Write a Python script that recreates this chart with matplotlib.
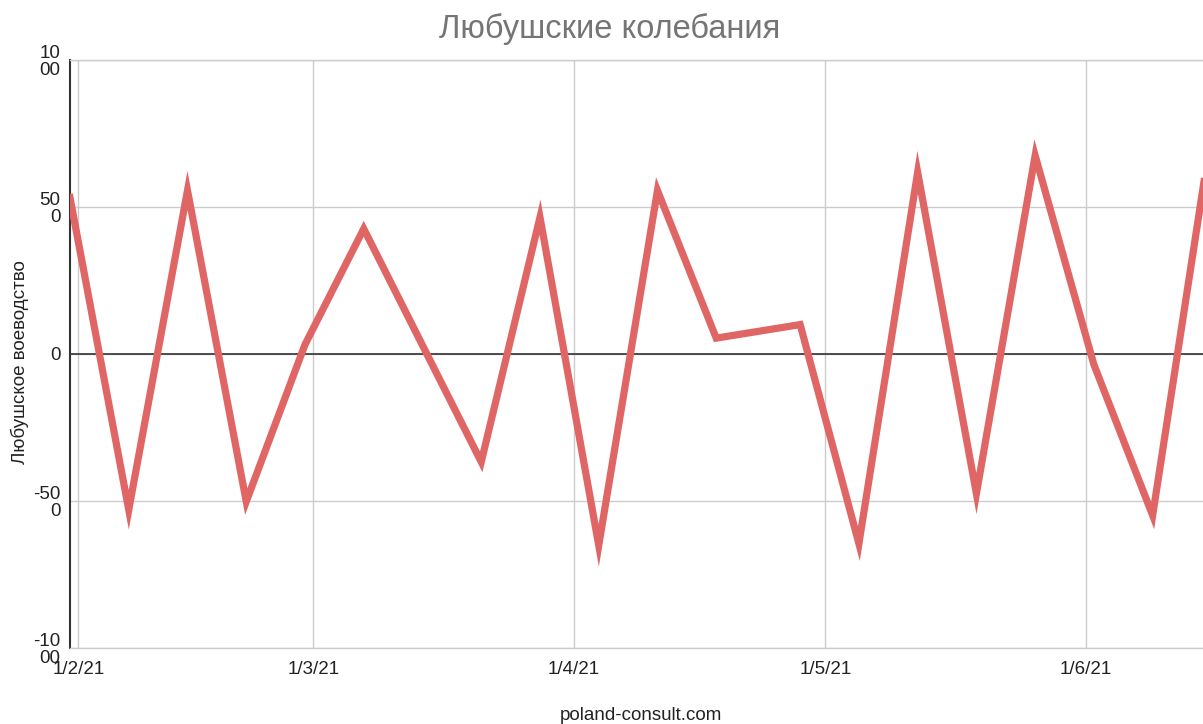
import matplotlib
matplotlib.use("Agg")
import matplotlib.pyplot as plt
import numpy as np

plt.rcParams['font.family'] = ['Liberation Sans', 'DejaVu Sans']

# --- data ---
dates = ["2021-01-31", "2021-02-07", "2021-02-14", "2021-02-21", "2021-02-28",
         "2021-03-07", "2021-03-21", "2021-03-28", "2021-04-04", "2021-04-11",
         "2021-04-18", "2021-04-28", "2021-05-05", "2021-05-12", "2021-05-19",
         "2021-05-26", "2021-06-02", "2021-06-09", "2021-06-16"]
values = [532, -530, 556, -502, 32,
          426, -367, 465, -651, 556,
          54, 100, -645, 618, -475,
          675, -36, -549, 750]

month_ticks = ["2021-02-01", "2021-03-01", "2021-04-01", "2021-05-01", "2021-06-01"]
month_labels = ["1/2/21", "1/3/21", "1/4/21", "1/5/21", "1/6/21"]
y_ticks = [-1000, -500, 0, 500, 1000]
y_labels = ["-10\n00", "-50\n0", "0", "50\n0", "10\n00"]

title = "Любушские колебания"
y_title = "Любушское воеводство"
x_title = "poland-consult.com"

x = np.array(dates, dtype="datetime64[D]")
xt = np.array(month_ticks, dtype="datetime64[D]")

W, H = 1203, 724
fig = plt.figure(figsize=(W / 100, H / 100), dpi=100)
ax = fig.add_axes([70 / W, 76 / H, 1133 / W, 588 / H])

ax.plot(x, values, color="#e06666", lw=5.2, solid_joinstyle="miter", zorder=3)
ax.axhline(0, color="#333333", lw=1.2, zorder=2)

ax.set_xlim(np.datetime64("2021-01-31"), np.datetime64("2021-06-15"))
ax.set_ylim(-1000, 1000)

ax.set_xticks(xt, month_labels)
ax.set_yticks(y_ticks, y_labels)
for t in ax.get_yticklabels():
    t.set_linespacing(1.0)

ax.grid(True, color="#cccccc", lw=1.0, zorder=0)
ax.tick_params(length=0, labelsize=13.5, labelcolor="#222222")
ax.tick_params(axis="y", pad=7)
ax.tick_params(axis="x", pad=9)

for side in ("top", "bottom"):
    ax.spines[side].set_color("#cccccc")
    ax.spines[side].set_linewidth(1.0)
ax.spines["right"].set_visible(False)
ax.spines["left"].set_color("#333333")
ax.spines["left"].set_linewidth(1.5)

fig.text(610 / W, 1 - 38 / H, title, ha="center", va="baseline",
         fontsize=23.5, color="#757575")
fig.text(20 / W, 1 - 362 / H, y_title, rotation=90, ha="center", va="center",
         fontsize=13.5, color="#222222")
fig.text(641 / W, 1 - 715 / H, x_title, ha="center", va="center",
         fontsize=13.5, color="#222222")

fig.savefig("out.png", dpi=100)
